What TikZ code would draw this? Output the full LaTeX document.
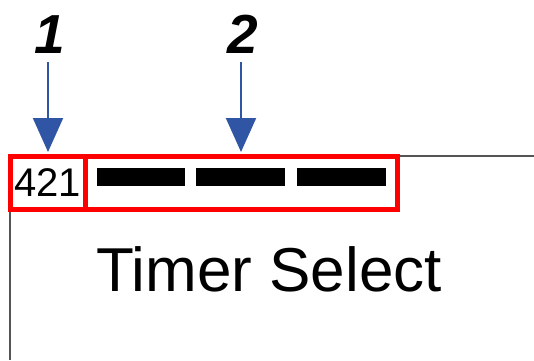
\documentclass[tikz,border=0pt]{standalone}
\usepackage{fontspec}
\setmainfont{Liberation Sans}
\usetikzlibrary{arrows.meta, positioning}

\definecolor{markblue}{HTML}{2F55A4}
\definecolor{framegray}{HTML}{555555}

\tikzset{
    field/.style={draw=red, line width=5pt, inner sep=0pt},
    bar/.style={fill=black, inner sep=0pt, minimum height=18pt},
    callout/.style={inner sep=0pt, font=\fontsize{55}{55}\selectfont\bfseries\itshape},
    pointer/.style={markblue, line width=2pt, -{Triangle[width=30pt,length=34pt]}},
}

\begin{document}
\begin{tikzpicture}[x=1pt, y=-1pt]
\useasboundingbox (0,0) rectangle (534,360);

% panel outline
\coordinate (top right) at (534,156);
\coordinate (bottom left) at (10,360);
\draw[framegray, line width=1.2pt] (397,156) -- (top right);
\draw[framegray, line width=1.2pt] (10,209) -- (bottom left);

% fields
\node[field, minimum width=75pt, minimum height=53pt] (code) at (47.5,182.5)
    {\fontsize{40}{40}\selectfont 421};
\node[field, minimum width=312pt, minimum height=53pt] (bits) at (241,182.5) {};

\node[bar, minimum width=88pt] (bar0) at (141,177) {};
\node[bar, minimum width=89pt] (bar1) [right=11pt of bar0] {};
\node[bar, minimum width=89pt] (bar2) [right=11pt of bar1] {};

\node[font=\fontsize{62}{62}\selectfont, anchor=base] (title) at (269,291) {Timer Select};

% callouts
\node[callout, anchor=base] (n1) at (50,53) {1};
\node[callout, anchor=base] (n2) at (243,53) {2};
\coordinate (t1) at (48,152);
\coordinate (t2) at (241,152);

\draw[pointer] ([yshift=-9pt]n1.south -| t1) -- (t1);
\draw[pointer] ([yshift=-9pt]n2.south -| t2) -- (t2);
\end{tikzpicture}
\end{document}
